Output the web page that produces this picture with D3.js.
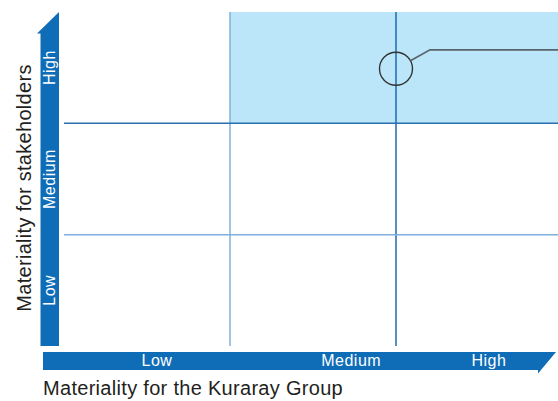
<!DOCTYPE html>
<html>
<head>
<meta charset="utf-8">
<script src="https://cdn.jsdelivr.net/npm/d3@7"></script>
<style>
  body { margin: 0; background: #fff; }
  svg text { font-family: "Liberation Sans", Arial, sans-serif; }
</style>
</head>
<body>
<div id="chart"></div>
<script>
// materiality levels (same for both axes)
const levels = ["Low", "Medium", "High"];
// where the level names sit along each bar, in axis units
const xLabelAt = [0.56, 1.73, 2.56];
const yLabelAt = [0.5, 1.5, 2.5];
// grid boundaries between levels
const gridAt = [1, 2];
// highlighted area (x from..to, y from..to) in axis units
const highlight = [[1, 3], [2, 3]];
// highlighted item
const pointX = [2.0];
const pointY = [2.49];

const xTitle = "Materiality for the Kuraray Group";
const yTitle = "Materiality for stakeholders";

const width = 558, height = 401;
const svg = d3.select("#chart").append("svg")
    .attr("width", width).attr("height", height);

const x = d3.scaleLinear().domain([0, 3]).range([64, 562]);
const y = d3.scaleLinear().domain([0, 3]).range([346, 12]);

const dark = "#0f6db7";

// light blue highlight
svg.append("rect")
    .attr("x", x(highlight[0][0]))
    .attr("y", y(highlight[1][1]))
    .attr("width", x(highlight[0][1]) - x(highlight[0][0]))
    .attr("height", y(highlight[1][0]) - y(highlight[1][1]))
    .attr("fill", "#bbe6f9");

// grid lines
const vCol = ["#7fb0dd", "#1f68ad"];
const hCol = ["#7fb0dd", "#2a6fb0"];
svg.selectAll(".vline").data(gridAt).enter().append("line")
    .attr("x1", d => x(d)).attr("x2", d => x(d))
    .attr("y1", y(3)).attr("y2", y(0))
    .attr("stroke", (d, i) => vCol[i]).attr("stroke-width", 1.5);
svg.selectAll(".hline").data(gridAt).enter().append("line")
    .attr("x1", x(0)).attr("x2", width)
    .attr("y1", d => y(d)).attr("y2", d => y(d))
    .attr("stroke", (d, i) => hCol[i]).attr("stroke-width", 1.5);

// callout
const cx = x(pointX[0]), cy = y(pointY[0]), r = 16.5;
svg.append("circle")
    .attr("cx", cx).attr("cy", cy).attr("r", r)
    .attr("fill", "none").attr("stroke", "#333").attr("stroke-width", 1.4);
const kx = cx + 34, ky = cy - 19;
const ang = Math.atan2(ky - cy, kx - cx);
svg.append("path")
    .attr("d", d3.line()([[cx + r * Math.cos(ang), cy + r * Math.sin(ang)], [kx, ky], [width, ky]]))
    .attr("fill", "none").attr("stroke", "#59656c").attr("stroke-width", 1.8);

// vertical arrow bar
const vb = { left: 40.5, right: 59 };
svg.append("path")
    .attr("d", d3.line()([
      [vb.left, y(0)], [vb.right, y(0)], [vb.right, y(3)],
      [37, y(3) + 21.5], [vb.left, y(3) + 21.5]
    ]) + "Z")
    .attr("fill", dark);

// horizontal arrow bar
const hb = { top: 352, bottom: 370 };
svg.append("path")
    .attr("d", d3.line()([
      [43, hb.top], [556, hb.top], [538, hb.bottom + 3.5],
      [538, hb.bottom], [43, hb.bottom]
    ]) + "Z")
    .attr("fill", dark);

// level labels on bars
svg.selectAll(".xlab").data(levels).enter().append("text")
    .attr("x", (d, i) => x(xLabelAt[i]))
    .attr("y", hb.bottom - 4)
    .attr("text-anchor", "middle")
    .attr("font-size", 16)
    .attr("letter-spacing", 0.5)
    .attr("fill", "#fff")
    .text(d => d);

svg.selectAll(".ylab").data(levels).enter().append("text")
    .attr("transform", (d, i) => `translate(${vb.right - 4},${y(yLabelAt[i])}) rotate(-90)`)
    .attr("text-anchor", "middle")
    .attr("font-size", 16)
    .attr("letter-spacing", 0.5)
    .attr("fill", "#fff")
    .text(d => d);

// axis titles
svg.append("text")
    .attr("x", 43).attr("y", 395)
    .attr("font-size", 20)
    .attr("letter-spacing", 0.3)
    .attr("fill", "#231f20")
    .text(xTitle);

svg.append("text")
    .attr("transform", `translate(31,${(y(0) + y(3)) / 2 + 9}) rotate(-90)`)
    .attr("text-anchor", "middle")
    .attr("font-size", 20)
    .attr("letter-spacing", 0.3)
    .attr("fill", "#231f20")
    .text(yTitle);
</script>
</body>
</html>
